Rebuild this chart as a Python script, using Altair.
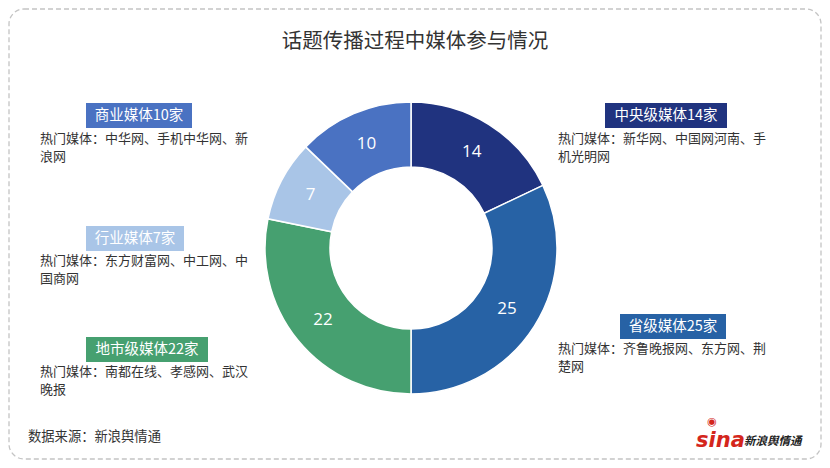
import altair as alt
import pandas as pd

# ---------------- data ----------------
title_text = "话题传播过程中媒体参与情况"
categories = ["中央级媒体", "省级媒体", "地市级媒体", "行业媒体", "商业媒体"]
counts = [14, 25, 22, 7, 10]
colors = ["#20337f", "#2762a5", "#46a070", "#a9c5e7", "#4a72c2"]
desc_line1 = [
    "热门媒体：新华网、中国网河南、手",
    "热门媒体：齐鲁晚报网、东方网、荆",
    "热门媒体：南都在线、孝感网、武汉",
    "热门媒体：东方财富网、中工网、中",
    "热门媒体：中华网、手机中华网、新",
]
desc_line2 = ["机光明网", "楚网", "晚报", "国商网", "浪网"]
source_text = "数据来源：新浪舆情通"
logo_word = "sina"
logo_cn = "新浪舆情通"
logo_eye = "◉"

# ---------------- layout (pixels inside the chart) ----------------
W, H = 814, 452
CX, CY = 403, 240
R_OUT, R_IN = 146, 81
box_x = [597, 612, 78, 78, 78]
box_x2 = [719, 718, 200, 176, 184]
box_y = [95, 306, 329, 218, 95]
desc_x = [550, 550, 32, 32, 32]
desc_y = [134, 344, 367, 256, 134]
BOX_H = 25
LINE_H = 17.5

FONT = "Noto Sans CJK SC"

df = pd.DataFrame({
    "cat": categories,
    "count": counts,
    "order": list(range(len(categories))),
    "label": [f"{c}{n}家" for c, n in zip(categories, counts)],
    "bx": box_x, "bx2": box_x2,
    "by": box_y, "by2": [y + BOX_H for y in box_y],
    "bcx": [(a + b) / 2 for a, b in zip(box_x, box_x2)],
    "bcy": [y + BOX_H / 2 for y in box_y],
    "dx": desc_x, "dy": [y - LINE_H / 2 for y in desc_y],
    "desc": [a + "\n" + b for a, b in zip(desc_line1, desc_line2)],
})

color_scale = alt.Scale(domain=categories, range=colors)
base = alt.Chart(df)

border = alt.Chart(pd.DataFrame({"a": [0]})).mark_rect(
    fill="white", stroke="#c4c4c4", strokeDash=[5, 3], strokeWidth=1.3, cornerRadius=15
).encode(x=alt.value(1), x2=alt.value(W - 1), y=alt.value(1), y2=alt.value(H - 1))

arcs = base.mark_arc(radius=R_OUT, radius2=R_IN, stroke="white", strokeWidth=1.5).encode(
    theta=alt.Theta("count:Q", stack=True),
    order=alt.Order("order:Q"),
    color=alt.Color("cat:N", scale=color_scale, legend=None),
    x=alt.value(CX), y=alt.value(CY),
)

nums = base.mark_text(radius=(R_OUT + R_IN) / 2, fontSize=17, font="Open Sans", color="white").encode(
    theta=alt.Theta("count:Q", stack=True),
    order=alt.Order("order:Q"),
    text="count:Q",
    x=alt.value(CX), y=alt.value(CY),
)

boxes = base.mark_rect().encode(
    x=alt.X("bx:Q", scale=None), x2="bx2:Q",
    y=alt.Y("by:Q", scale=None), y2="by2:Q",
    color=alt.Color("cat:N", scale=color_scale, legend=None),
)

box_text = base.mark_text(fontSize=14.5, font=FONT, color="white", baseline="middle").encode(
    x=alt.X("bcx:Q", scale=None), y=alt.Y("bcy:Q", scale=None), text="label:N"
)

desc = base.mark_text(fontSize=13, font=FONT, color="#333333", align="left", baseline="top",
                      lineBreak="\n", lineHeight=LINE_H).encode(
    x=alt.X("dx:Q", scale=None), y=alt.Y("dy:Q", scale=None), text="desc:N"
)

one = alt.Chart(pd.DataFrame({"a": [0]}))
title = one.mark_text(text=title_text, fontSize=20.5, font=FONT, color="#333333", baseline="middle").encode(
    x=alt.value(407), y=alt.value(34)
)
source = one.mark_text(text=source_text, fontSize=13.3, font=FONT, color="#333333", align="left",
                       baseline="middle").encode(x=alt.value(20), y=alt.value(429))
logo1 = one.mark_text(text=logo_word, fontSize=21, font="DejaVu Sans", fontWeight="bold", fontStyle="italic",
                      color="#d4261c", align="left", baseline="middle").encode(x=alt.value(688), y=alt.value(433))
logo2 = one.mark_text(text=logo_cn, fontSize=11.5, font=FONT, fontWeight="bold", fontStyle="italic",
                      color="#222222", align="left", baseline="middle").encode(x=alt.value(736), y=alt.value(434))
eye = one.mark_text(text=logo_eye, fontSize=11, font="DejaVu Sans", color="#d4261c",
                    baseline="middle").encode(x=alt.value(704), y=alt.value(414))

chart = alt.layer(border, arcs, nums, boxes, box_text, desc, title, source, logo1, logo2, eye).properties(
    width=W, height=H, padding=0, autosize=alt.AutoSizeParams(type="none"), background="white"
).configure_view(stroke=None)

chart.save("out.html", embed_options={"renderer": "svg", "actions": False})
